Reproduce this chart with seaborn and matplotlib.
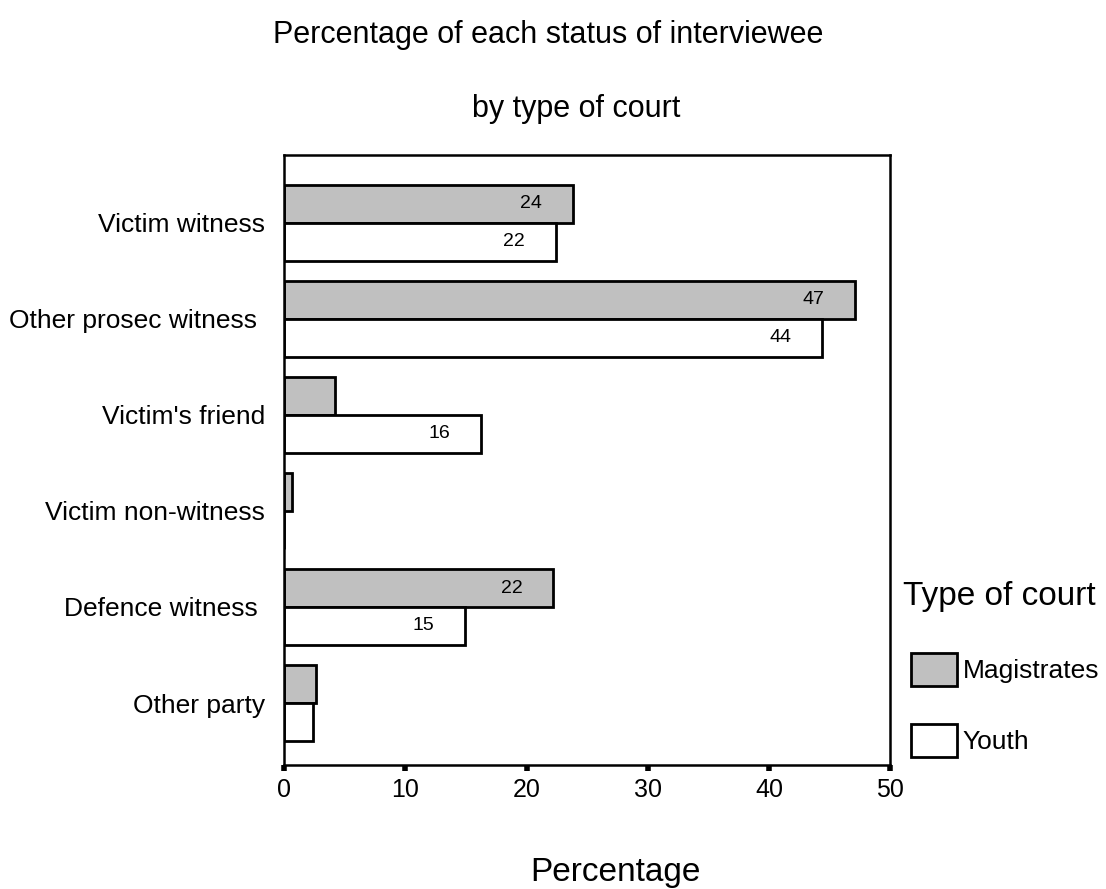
import matplotlib
matplotlib.use("Agg")
import matplotlib.pyplot as plt
import seaborn as sns
import pandas as pd
from matplotlib.patches import Patch

categories = ["Victim witness", "Other prosec witness ", "Victim's friend",
              "Victim non-witness", "Defence witness ", "Other party"]
magistrates = [23.8, 47.1, 4.2, 0.6, 22.2, 2.6]
youth = [22.4, 44.4, 16.2, 0.0, 14.9, 2.4]
courts = ["Magistrates", "Youth"]
xticks = [0, 10, 20, 30, 40, 50]

df = pd.DataFrame({
    "status": categories * 2,
    "pct": magistrates + youth,
    "court": [courts[0]] * len(categories) + [courts[1]] * len(categories),
})

sns.set_style("white")
plt.rcParams['font.family'] = ['Liberation Sans', 'DejaVu Sans']
for k in ["text.color", "axes.labelcolor", "xtick.color", "ytick.color"]:
    plt.rcParams[k] = "black"

fig = plt.figure(figsize=(11.06, 8.89), dpi=100)
ax = fig.add_axes([0.257, 0.139, 0.548, 0.687])

colors = ["#c0c0c0", "#ffffff"]
sns.barplot(data=df, y="status", x="pct", hue="court", orient="h",
            order=categories, hue_order=courts, palette=colors,
            edgecolor="black", linewidth=2, width=0.79, dodge=True,
            legend=False, ax=ax, saturation=1)

for cont in ax.containers:
    for rect, v in zip(cont.patches, cont.datavalues):
        if v >= 10:
            ax.annotate(f"{v:.0f}", xy=(rect.get_x() + rect.get_width(),
                                         rect.get_y() + rect.get_height() / 2),
                        xytext=(-22, 0), textcoords="offset points",
                        ha="right", va="center", fontsize=14, color="black")

ax.set_xlim(0, 50)
ax.set_ylim(5.65, -0.71)
ax.set_xticks(xticks)
ax.set_xticklabels([str(t) for t in xticks], fontsize=18)
ax.tick_params(axis="x", direction="out", length=4, width=4, bottom=True, pad=5)
ax.tick_params(axis="y", length=0, labelsize=19, pad=14)
ax.set_ylabel("")
ax.set_xlabel("")
for s in ax.spines.values():
    s.set_visible(True)
    s.set_linewidth(1.8)
    s.set_color("black")

fig.text(273 / 1106, 1 - 43 / 889, "Percentage of each status of interviewee",
         ha="left", va="baseline", fontsize=22)
fig.text(472 / 1106, 1 - 117 / 889, "by type of court", ha="left",
         va="baseline", fontsize=22)
fig.text(615 / 1106, 1 - 881 / 889, "Percentage", ha="center", va="baseline",
         fontsize=24)

fig.text(903 / 1106, 1 - 605 / 889, "Type of court", ha="left", va="baseline",
         fontsize=24)
handles = [Patch(facecolor=colors[0], edgecolor="black", linewidth=2),
           Patch(facecolor=colors[1], edgecolor="black", linewidth=2)]
leg = fig.legend(handles, courts, loc="upper left",
                 bbox_to_anchor=(911 / 1106, 1 - 653 / 889), frameon=False,
                 fontsize=19, handlelength=1.75, handleheight=1.55,
                 handletextpad=0.2, labelspacing=1.42, borderaxespad=0,
                 borderpad=0)

fig.savefig("out.png", dpi=100)
